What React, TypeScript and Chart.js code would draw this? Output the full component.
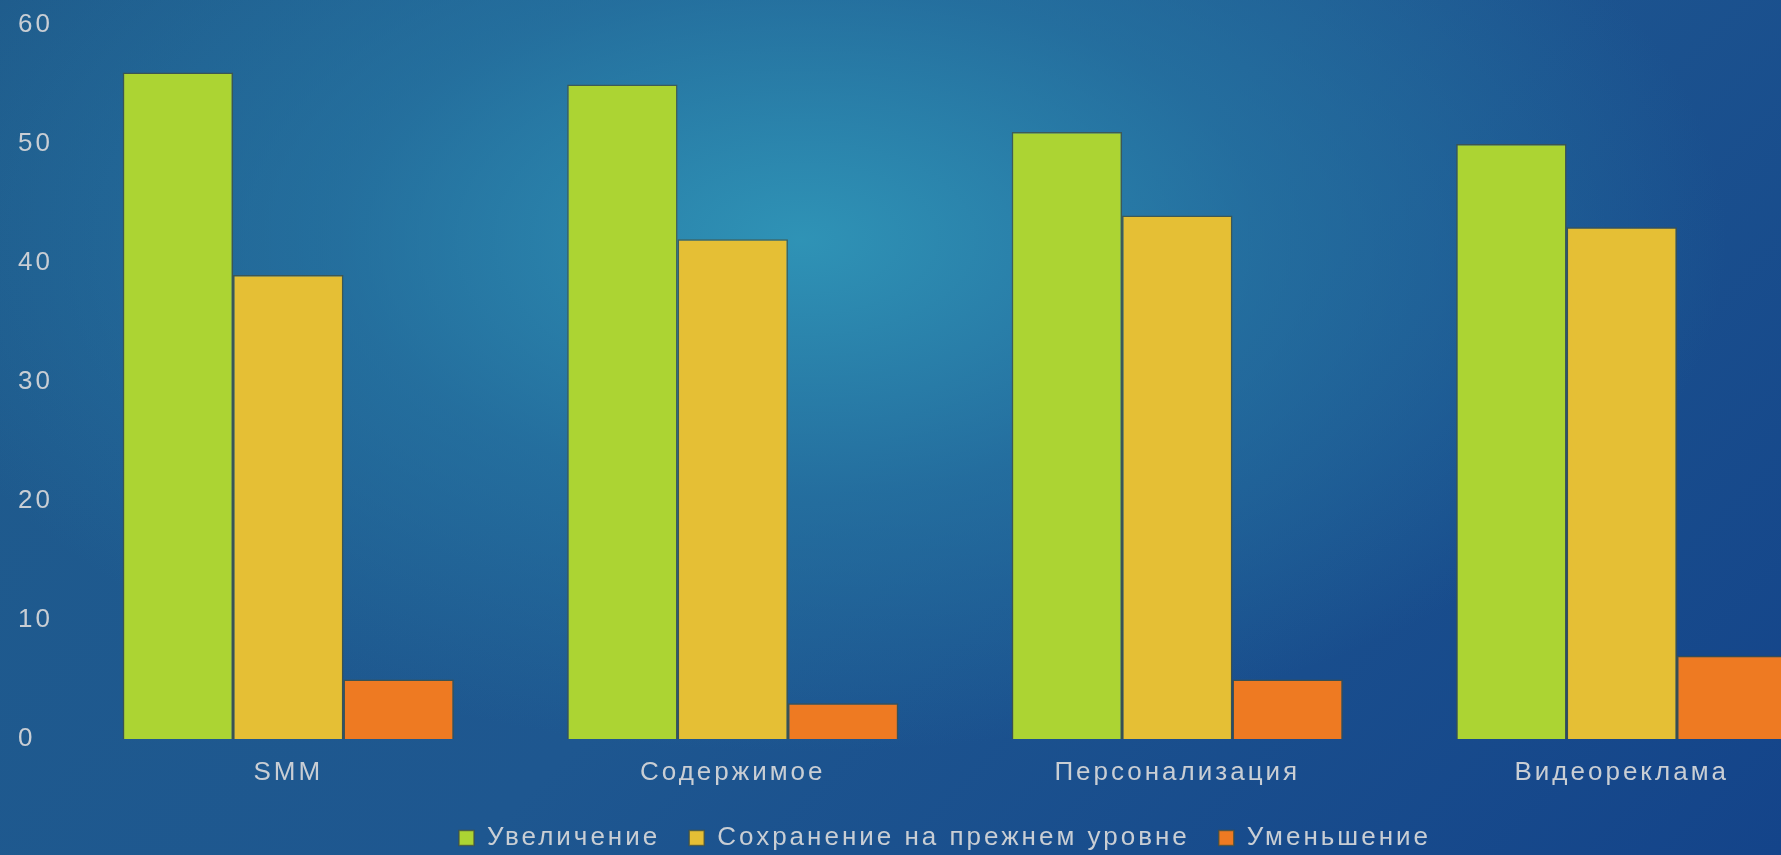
import React, { useEffect, useRef } from "react";
import { Chart, registerables } from "chart.js";

Chart.register(...registerables);

const categories = ["SMM", "Содержимое", "Персонализация", "Видеореклама"];
const seriesNames = ["Увеличение", "Сохранение на прежнем уровне", "Уменьшение"];
const increase = [56, 55, 51, 50];
const keep = [39, 42, 44, 43];
const decrease = [5, 3, 5, 7];
const seriesColors = ["#acd433", "#e5bf35", "#ee7a22"];

const FONT = "'Liberation Sans', Arial, sans-serif";
const TEXT = "#c9ced4";
const SPACING = "3px";

const spacingPlugin = {
  id: "spacing",
  beforeUpdate(chart: any) {
    (chart.ctx as any).letterSpacing = SPACING;
  },
  beforeLayout(chart: any) {
    (chart.ctx as any).letterSpacing = SPACING;
  },
  afterLayout(chart: any) {
    const l = chart.legend;
    if (l) {
      l.left += 14;
      l.right += 14;
      l.top += 6;
      l.bottom += 6;
    }
  },
  beforeDraw(chart: any) {
    (chart.ctx as any).letterSpacing = SPACING;
  },
};

export default function App() {
  const ref = useRef<HTMLCanvasElement>(null);
  useEffect(() => {
    if (!ref.current) return;
    const chart = new Chart(ref.current, {
      type: "bar",
      data: {
        labels: categories,
        datasets: [increase, keep, decrease].map((d, i) => ({
          label: seriesNames[i],
          data: d,
          backgroundColor: seriesColors[i],
          borderColor: "rgba(70,80,60,0.75)",
          borderWidth: 1.5,
          categoryPercentage: 0.745,
          barPercentage: 1.0,
        })),
      },
      options: {
        responsive: false,
        maintainAspectRatio: false,
        animation: false,
        devicePixelRatio: 1,
        layout: { padding: { left: 18, right: 46, top: 25, bottom: 0 } },
        scales: {
          x: {
            grid: { display: false, drawTicks: false },
            border: { display: false },
            ticks: { color: TEXT, font: { family: FONT, size: 26 }, padding: 18 },
            afterFit(scale: any) {
              scale.height = 51;
            },
          },
          y: {
            min: 0,
            max: 60,
            grid: { display: false, drawTicks: false },
            border: { display: false },
            ticks: {
              stepSize: 10,
              color: TEXT,
              crossAlign: "far",
              font: { family: FONT, size: 26 },
            },
            afterFit(scale: any) {
              scale.width = 48;
            },
          },
        },
        plugins: {
          legend: {
            position: "bottom",
            labels: {
              color: TEXT,
              font: { family: FONT, size: 26 },
              boxWidth: 15,
              boxHeight: 15,
              padding: 29,
            },
          },
          tooltip: { enabled: false },
        },
      },
      plugins: [spacingPlugin],
    } as any);
    return () => chart.destroy();
  }, []);
  return (
    <div
      style={{
        position: "fixed",
        left: 0,
        top: 0,
        width: 1781,
        height: 855,
        overflow: "hidden",
        background:
          "radial-gradient(ellipse 65% 75% at 45% 28%, rgba(48,150,184,0.95) 0%, rgba(40,125,168,0.6) 40%, rgba(32,95,148,0) 80%), linear-gradient(135deg, #1f5c8c 0%, #1e5790 50%, #14448a 100%)",
      }}
    >
      <canvas ref={ref} width={1890} height={855} style={{ display: "block", width: 1890, height: 855 }} />
    </div>
  );
}
